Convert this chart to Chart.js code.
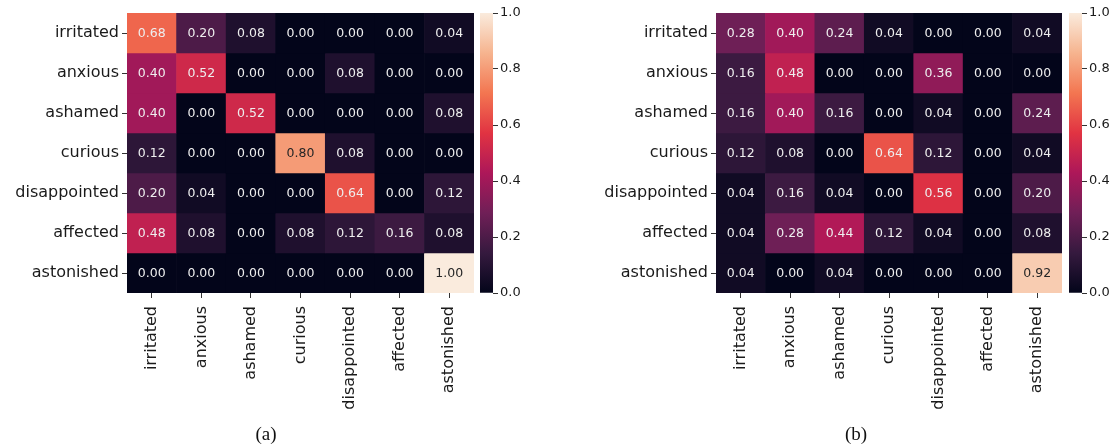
<!DOCTYPE html>
<html>
<head>
<meta charset="utf-8">
<script src="https://cdn.jsdelivr.net/npm/chart.js@4.4.1/dist/chart.umd.min.js"></script>
<style>
    html, body { margin: 0; padding: 0; background: #fff; }
    body { width: 1115px; height: 446px; position: relative; overflow: hidden; }
    canvas { position: absolute; }
    .caption {
        position: absolute; top: 423px; width: 60px; text-align: center;
        font-family: "Liberation Serif", "DejaVu Serif", serif; font-size: 19px; color: #111;
    }
</style>
</head>
<body>
<canvas id="heatA" width="478" height="430" style="left:0;top:0"></canvas>
<canvas id="barA" width="60" height="310" style="left:478px;top:0"></canvas>
<canvas id="heatB" width="477" height="430" style="left:589px;top:0"></canvas>
<canvas id="barB" width="48" height="310" style="left:1067px;top:0"></canvas>
<div class="caption" style="left:236px">(a)</div>
<div class="caption" style="left:826px">(b)</div>
<script>
// Row / column categories (true label vs predicted label)
const rowLabels = ['irritated', 'anxious', 'ashamed', 'curious', 'disappointed', 'affected', 'astonished'];
const colLabels = ['irritated', 'anxious', 'ashamed', 'curious', 'disappointed', 'affected', 'astonished'];

// Confusion matrix (a)
const valuesA = [
    [0.68, 0.20, 0.08, 0.00, 0.00, 0.00, 0.04],
    [0.40, 0.52, 0.00, 0.00, 0.08, 0.00, 0.00],
    [0.40, 0.00, 0.52, 0.00, 0.00, 0.00, 0.08],
    [0.12, 0.00, 0.00, 0.80, 0.08, 0.00, 0.00],
    [0.20, 0.04, 0.00, 0.00, 0.64, 0.00, 0.12],
    [0.48, 0.08, 0.00, 0.08, 0.12, 0.16, 0.08],
    [0.00, 0.00, 0.00, 0.00, 0.00, 0.00, 1.00]
];

// Confusion matrix (b)
const valuesB = [
    [0.28, 0.40, 0.24, 0.04, 0.00, 0.00, 0.04],
    [0.16, 0.48, 0.00, 0.00, 0.36, 0.00, 0.00],
    [0.16, 0.40, 0.16, 0.00, 0.04, 0.00, 0.24],
    [0.12, 0.08, 0.00, 0.64, 0.12, 0.00, 0.04],
    [0.04, 0.16, 0.04, 0.00, 0.56, 0.00, 0.20],
    [0.04, 0.28, 0.44, 0.12, 0.04, 0.00, 0.08],
    [0.04, 0.00, 0.04, 0.00, 0.00, 0.00, 0.92]
];

// Colorbar ticks
const colorbarTicks = [0.0, 0.2, 0.4, 0.6, 0.8, 1.0];

// seaborn "rocket" colormap, sampled
const rocketStops = [
    [0 / 7, [3, 5, 26]],
    [1 / 7, [53, 25, 62]],
    [2 / 7, [112, 31, 87]],
    [3 / 7, [173, 23, 89]],
    [4 / 7, [225, 51, 66]],
    [5 / 7, [243, 118, 81]],
    [6 / 7, [246, 180, 143]],
    [7 / 7, [250, 235, 221]]
];

const FONT = '"DejaVu Sans", "Liberation Sans", sans-serif';
const TEXT_COLOR = '#1a1a1a';

function rocketRgb(v) {
    v = Math.max(0, Math.min(1, v));
    for (let i = 1; i < rocketStops.length; i++) {
        const [p1, c1] = rocketStops[i];
        const [p0, c0] = rocketStops[i - 1];
        if (v <= p1) {
            const t = (v - p0) / (p1 - p0);
            return c0.map((c, k) => Math.round(c + (c1[k] - c) * t));
        }
    }
    return rocketStops[rocketStops.length - 1][1];
}

function rocket(v) {
    const c = rocketRgb(v);
    return 'rgb(' + c[0] + ',' + c[1] + ',' + c[2] + ')';
}

// same rule seaborn uses to pick annotation colour
function luminance(rgb) {
    const lin = rgb.map(c => {
        c = c / 255;
        return c <= 0.03928 ? c / 12.92 : Math.pow((c + 0.055) / 1.055, 2.4);
    });
    return 0.2126 * lin[0] + 0.7152 * lin[1] + 0.0722 * lin[2];
}

// Draw cell values on top of the bars
const annotatePlugin = {
    id: 'annotate',
    afterDatasetsDraw(chart, args, opts) {
        const ctx = chart.ctx;
        ctx.save();
        ctx.font = '12.5px ' + FONT;
        ctx.textAlign = 'center';
        ctx.textBaseline = 'middle';
        chart.data.datasets.forEach((ds, r) => {
            const meta = chart.getDatasetMeta(r);
            meta.data.forEach((bar, c) => {
                const v = opts.values[r][c];
                const p = bar.getCenterPoint();
                ctx.fillStyle = luminance(rocketRgb(v)) > 0.408 ? '#262626' : '#eeeeee';
                ctx.fillText(v.toFixed(2), p.x, p.y + 1);
            });
        });
        ctx.restore();
    }
};

function initializeHeatmap(canvasId, values) {
    const canvas = document.getElementById(canvasId);
    const H = canvas.height;
    new Chart(canvas.getContext('2d'), {
        type: 'bar',
        data: {
            labels: colLabels,
            datasets: rowLabels.map((row, r) => ({
                label: row,
                data: values[r].map(() => [r, r + 1]),
                backgroundColor: values[r].map(v => rocket(v)),
                borderWidth: 0,
                barPercentage: 1,
                categoryPercentage: 1,
                grouped: false
            }))
        },
        options: {
            responsive: false,
            animation: false,
            layout: { padding: { left: 0, right: 4, top: 13, bottom: 0 } },
            plugins: {
                legend: { display: false },
                tooltip: { enabled: false },
                annotate: { values: values }
            },
            scales: {
                x: {
                    type: 'category',
                    border: { display: false },
                    grid: { offset: false, drawOnChartArea: false, tickLength: 5, color: '#333' },
                    ticks: {
                        minRotation: 90, maxRotation: 90, autoSkip: false, padding: 8,
                        color: TEXT_COLOR, font: { family: FONT, size: 16 }
                    },
                    afterFit: s => { s.height = H - 293; }
                },
                y: {
                    type: 'linear',
                    min: 0, max: rowLabels.length,
                    reverse: true,
                    border: { display: false },
                    grid: { drawOnChartArea: false, tickLength: 5, color: '#333' },
                    afterBuildTicks: axis => {
                        axis.ticks = rowLabels.map((_, i) => ({ value: i + 0.5 }));
                    },
                    ticks: {
                        autoSkip: false, padding: 3,
                        color: TEXT_COLOR, font: { family: FONT, size: 16 },
                        callback: (v, i) => rowLabels[i]
                    },
                    afterFit: s => { s.width = 127; }
                }
            }
        },
        plugins: [annotatePlugin]
    });
}

function initializeColorbar(canvasId) {
    const canvas = document.getElementById(canvasId);
    const W = canvas.width;
    const lo = colorbarTicks[0];
    const hi = colorbarTicks[colorbarTicks.length - 1];
    new Chart(canvas.getContext('2d'), {
        type: 'bar',
        data: {
            labels: ['scale'],
            datasets: [{
                data: [[lo, hi]],
                backgroundColor: function(context) {
                    const chart = context.chart;
                    const yScale = chart.scales.y;
                    if (!chart.chartArea || !yScale) return rocket(0);
                    const g = chart.ctx.createLinearGradient(0, yScale.getPixelForValue(lo), 0, yScale.getPixelForValue(hi));
                    rocketStops.forEach(([p, c]) => g.addColorStop(p, 'rgb(' + c.join(',') + ')'));
                    return g;
                },
                borderWidth: 0,
                barPercentage: 1,
                categoryPercentage: 1
            }]
        },
        options: {
            responsive: false,
            animation: false,
            layout: { padding: { left: 2, right: 0, top: 13, bottom: 17 } },
            plugins: { legend: { display: false }, tooltip: { enabled: false } },
            scales: {
                x: { display: false },
                y: {
                    position: 'right',
                    min: lo, max: hi,
                    border: { display: false },
                    grid: { drawOnChartArea: false, tickLength: 5, color: '#333' },
                    afterBuildTicks: axis => {
                        axis.ticks = colorbarTicks.map(v => ({ value: v }));
                    },
                    ticks: {
                        padding: 2,
                        color: TEXT_COLOR, font: { family: FONT, size: 13 },
                        callback: v => v.toFixed(1)
                    },
                    afterFit: s => { s.width = W - 2 - 13; }
                }
            }
        }
    });
}

initializeHeatmap('heatA', valuesA);
initializeColorbar('barA');
initializeHeatmap('heatB', valuesB);
initializeColorbar('barB');
</script>
</body>
</html>
